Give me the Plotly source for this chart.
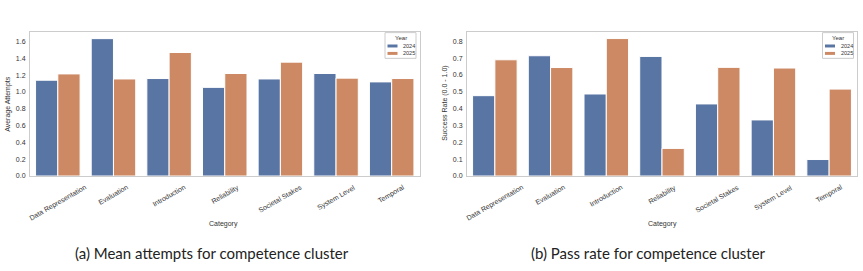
import plotly.graph_objects as go

categories = ["Data Representation", "Evaluation", "Introduction", "Reliability",
              "Societal Stakes", "System Level", "Temporal"]
attempts_2024 = [1.14, 1.635, 1.16, 1.055, 1.155, 1.22, 1.12]
attempts_2025 = [1.215, 1.155, 1.47, 1.22, 1.355, 1.165, 1.16]
pass_2024 = [0.477, 0.714, 0.487, 0.71, 0.428, 0.333, 0.098]
pass_2025 = [0.69, 0.644, 0.816, 0.164, 0.645, 0.641, 0.516]
years = ["2024", "2025"]
left_ticks = [0.0, 0.2, 0.4, 0.6, 0.8, 1.0, 1.2, 1.4, 1.6]
right_ticks = [0.0, 0.1, 0.2, 0.3, 0.4, 0.5, 0.6, 0.7, 0.8]

BLUE = "#5975a4"
ORANGE = "#cc8963"
COLORS = [BLUE, ORANGE]
FAM = "Liberation Sans, Arial"
TICKFONT = dict(family=FAM, size=7, color="#333333")
W, H = 863, 271

def px(x):
    return x / W

def py(y):
    return (H - y) / H

fig = go.Figure()
for name, vals, col in zip(years, [attempts_2024, attempts_2025], COLORS):
    fig.add_trace(go.Bar(x=categories, y=vals, name=name,
                         marker=dict(color=col, line=dict(color="white", width=1)),
                         xaxis="x", yaxis="y", offsetgroup=name, showlegend=False))
for name, vals, col in zip(years, [pass_2024, pass_2025], COLORS):
    fig.add_trace(go.Bar(x=categories, y=vals, name=name,
                         marker=dict(color=col, line=dict(color="white", width=1)),
                         xaxis="x2", yaxis="y2", offsetgroup=name, showlegend=False))

ydom = [py(178), py(32)]
axis_common = dict(showline=True, mirror=True, linecolor="#cccccc", linewidth=1, showgrid=False,
                   zeroline=False, ticks="", tickfont=TICKFONT)

L_PLOT = (30, 419.5)
R_PLOT = (467, 857)

fig.update_layout(
    width=W, height=H, margin=dict(l=0, r=0, t=0, b=0),
    paper_bgcolor="white", plot_bgcolor="white",
    barmode="group", bargap=0.2, bargroupgap=0,
    xaxis=dict(domain=[px(L_PLOT[0]), px(L_PLOT[1])], anchor="y", showticklabels=False,
               range=[-0.5, len(categories) - 0.5], **axis_common),
    yaxis=dict(domain=ydom, anchor="x", range=[0, 1.718], tickvals=left_ticks,
               ticktext=[f"{v:.1f}" for v in left_ticks], ticklabelstandoff=2, **axis_common),
    xaxis2=dict(domain=[px(R_PLOT[0]), px(R_PLOT[1])], anchor="y2", showticklabels=False,
                range=[-0.5, len(categories) - 0.5], **axis_common),
    yaxis2=dict(domain=ydom, anchor="x2", range=[0, 0.857], tickvals=right_ticks,
                ticktext=[f"{v:.1f}" for v in right_ticks], ticklabelstandoff=2, **axis_common),
    showlegend=False,
)

# rotated, centered category labels (placed at each category's center on the band scale)
for (xa, xb) in [L_PLOT, R_PLOT]:
    n = len(categories)
    for i, cat in enumerate(categories):
        xc = xa + (i + 0.5) / n * (xb - xa)
        fig.add_annotation(text=cat, x=px(xc), xref="paper", y=py(183), yref="paper",
                           showarrow=False, textangle=-30, font=TICKFONT,
                           xanchor="center", yanchor="top")

# manual legends
def add_legend(right_px):
    x1 = right_px - 3.5
    x0 = x1 - 31
    y0, y1 = 33, 59
    fig.add_shape(type="rect", xref="paper", yref="paper", x0=px(x0), x1=px(x1), y0=py(y1), y1=py(y0),
                  line=dict(color="#cccccc", width=1), fillcolor="white", layer="above")
    fig.add_annotation(text="Year", x=px((x0 + x1) / 2), y=py(38.5), xref="paper", yref="paper",
                       showarrow=False, font=dict(family=FAM, size=6, color="#333333"),
                       xanchor="center", yanchor="middle")
    for i, (yr, col) in enumerate(zip(years, COLORS)):
        yc = 46.5 + 7.5 * i
        fig.add_shape(type="rect", xref="paper", yref="paper", x0=px(x0 + 2.5), x1=px(x0 + 12.5),
                      y0=py(yc + 1.5), y1=py(yc - 1.5), line=dict(width=0), fillcolor=col, layer="above")
        fig.add_annotation(text=yr, x=px(x0 + 16), y=py(yc), xref="paper", yref="paper",
                           showarrow=False, font=dict(family=FAM, size=5.5, color="#333333"),
                           xanchor="left", yanchor="middle")

add_legend(L_PLOT[1])
add_legend(R_PLOT[1])

ann_font = dict(family=FAM, size=7, color="#333333")
cap_font = dict(family="Lato, Open Sans", size=15, color="#222222")
fig.add_annotation(text="Category", x=px(224), y=py(227), xref="paper", yref="paper",
                   showarrow=False, font=ann_font, xanchor="center", yanchor="middle")
fig.add_annotation(text="Category", x=px(662), y=py(227), xref="paper", yref="paper",
                   showarrow=False, font=ann_font, xanchor="center", yanchor="middle")
fig.add_annotation(text="Average Attempts", x=px(8), y=py(105), xref="paper", yref="paper",
                   showarrow=False, font=ann_font, textangle=-90, xanchor="center", yanchor="middle")
fig.add_annotation(text="Success Rate (0.0 - 1.0)", x=px(445), y=py(105), xref="paper", yref="paper",
                   showarrow=False, font=ann_font, textangle=-90, xanchor="center", yanchor="middle")
fig.add_annotation(text="(a) Mean attempts for competence cluster", x=px(212), y=py(256),
                   xref="paper", yref="paper", showarrow=False, font=cap_font,
                   xanchor="center", yanchor="middle")
fig.add_annotation(text="(b) Pass rate for competence cluster", x=px(648), y=py(256),
                   xref="paper", yref="paper", showarrow=False, font=cap_font,
                   xanchor="center", yanchor="middle")

fig.write_html("out.html")
